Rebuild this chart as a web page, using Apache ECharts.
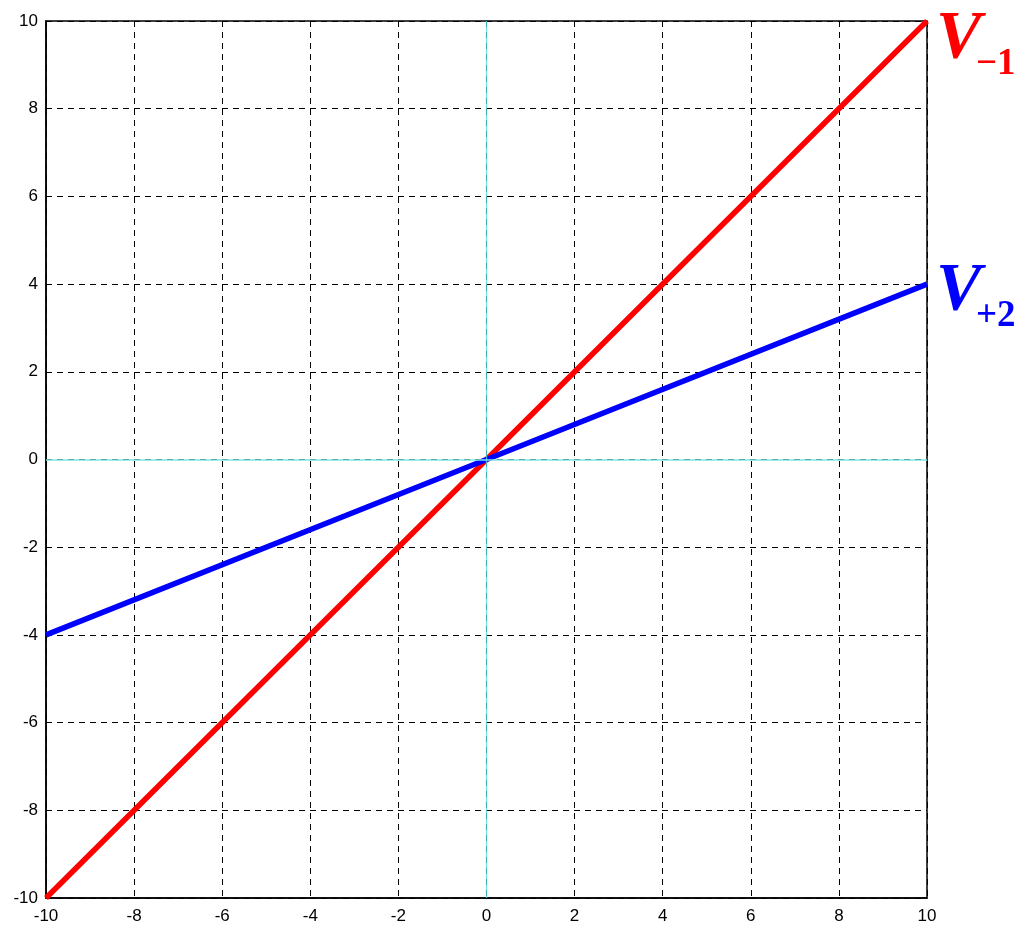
<!DOCTYPE html>
<html>
<head>
<meta charset="utf-8">
<script src="https://cdn.jsdelivr.net/npm/echarts@6/dist/echarts.min.js"></script>
<style>
  html, body { margin: 0; padding: 0; background: #fff; }
  #chart { width: 1019px; height: 925px; }
</style>
</head>
<body>
<div id="chart"></div>
<script>
// x samples and the two straight lines through the origin
const xValues = [-10, 0, 10];
const vMinus1 = [-10, 0, 10];   // slope 1
const vPlus2 = [-4, 0, 4];      // slope 0.4
const tickValues = [-10, -8, -6, -4, -2, 0, 2, 4, 6, 8, 10];

// subscripted line labels
const lineLabels = [
  { main: 'V', sub: '\u22121', color: '#ff0000', series: vMinus1 },
  { main: 'V', sub: '+2', color: '#0000ff', series: vPlus2 }
];

const chart = echarts.init(document.getElementById('chart'), null, { renderer: 'canvas' });

const gridLine = { show: true, lineStyle: { color: '#000', type: [6, 5], width: 1 } };
const axisLabel = { color: '#000', fontFamily: 'Liberation Sans, Arial, sans-serif', fontSize: 17 };

function pairs(ys) { return xValues.map((x, i) => [x, ys[i]]); }

chart.setOption({
  animation: false,
  grid: { left: 46, top: 21, right: 92, bottom: 26, show: true, borderColor: '#000', borderWidth: 1.5 },
  xAxis: {
    type: 'value', min: tickValues[0], max: tickValues[tickValues.length - 1], interval: 2,
    axisLine: { show: true, onZero: false, lineStyle: { color: '#000', width: 1.5 } },
    axisTick: { show: false },
    axisLabel: Object.assign({ margin: 10 }, axisLabel),
    splitLine: gridLine
  },
  yAxis: {
    type: 'value', min: tickValues[0], max: tickValues[tickValues.length - 1], interval: 2,
    axisLine: { show: true, onZero: false, lineStyle: { color: '#000', width: 1.5 } },
    axisTick: { show: false },
    axisLabel: Object.assign({ margin: 8 }, axisLabel),
    splitLine: gridLine
  },
  series: [
    {
      // cyan zero axes drawn over the dashed grid
      type: 'line', data: pairs([0, 0, 0]), showSymbol: false, silent: true,
      lineStyle: { width: 0 },
      markLine: {
        silent: true, symbol: 'none', label: { show: false },
        lineStyle: { type: 'solid' },
        data: [
          { xAxis: 0, lineStyle: { color: '#4fdcdc', width: 1.3, opacity: 0.8 } },
          { yAxis: 0, lineStyle: { color: '#7fe6e6', width: 1.6, opacity: 1 } }
        ]
      },
      z: 1
    },
    {
      name: 'V-1', type: 'line', data: pairs(vMinus1), showSymbol: false,
      lineStyle: { color: '#ff0000', width: 5.5 }, z: 3
    },
    {
      name: 'V+2', type: 'line', data: pairs(vPlus2), showSymbol: false,
      lineStyle: { color: '#0000ff', width: 5.5 }, z: 3
    }
  ]
});

// place the V labels just right of each line's end point
const graphics = [];
lineLabels.forEach(lab => {
  const last = lab.series.length - 1;
  const p = chart.convertToPixel({ gridIndex: 0 }, [xValues[last], lab.series[last]]);
  const cy = Math.max(p[1] + 7, 39);
  graphics.push({
    type: 'text', x: p[0] + 9, y: cy,
    style: {
      text: lab.main, fill: lab.color, align: 'left', verticalAlign: 'middle',
      font: 'italic bold 68px "Liberation Serif", "Times New Roman", serif'
    }
  });
  graphics.push({
    type: 'text', x: p[0] + 49, y: cy + 25,
    style: {
      text: lab.sub, fill: lab.color, align: 'left', verticalAlign: 'middle',
      font: 'bold 37px "Liberation Serif", "Times New Roman", serif'
    }
  });
});
chart.setOption({ graphic: graphics });
</script>
</body>
</html>
